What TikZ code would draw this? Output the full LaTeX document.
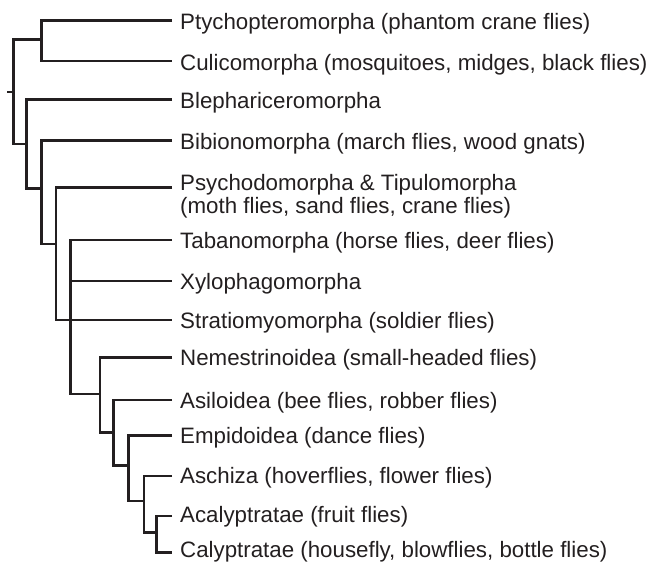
\documentclass[tikz,border=0pt]{standalone}
\usepackage{fontspec}
\setmainfont{Liberation Sans}
\definecolor{ink}{RGB}{35,31,32}
\begin{document}
\begin{tikzpicture}[x=1pt,y=-1pt,
  branch/.style={draw=ink,line width=2.5pt,line join=miter,line cap=butt},
  taxon/.style={anchor=base west,inner xsep=8pt,inner ysep=0pt,text=ink,
    font=\fontsize{22.3}{22.5}\selectfont,align=left}]
\useasboundingbox (0,0) rectangle (654,562);
% internal nodes
\coordinate (R0) at (7,92);
\coordinate (R) at (13.7,92);
\coordinate (A) at (41.7,39.5);
\coordinate (B) at (26.7,144);
\coordinate (C) at (41.7,188.3);
\coordinate (D) at (56,244);
\coordinate (E) at (70.7,320);
\coordinate (F) at (100,394);
\coordinate (G) at (113.3,432.7);
\coordinate (H) at (128.7,465.7);
\coordinate (I) at (144,501);
\coordinate (J) at (156.7,532.7);
% tips
\coordinate (t1) at (172,20.5);
\coordinate (t2) at (172,61);
\coordinate (t3) at (172,99.3);
\coordinate (t4) at (172,140.7);
\coordinate (t5) at (172,187.3);
\coordinate (t6) at (172,240);
\coordinate (t7) at (172,281);
\coordinate (t8) at (172,320);
\coordinate (t9) at (172,357.3);
\coordinate (t10) at (172,400);
\coordinate (t11) at (172,435.7);
\coordinate (t12) at (172,476);
\coordinate (t13) at (172,516);
\coordinate (t14) at (172,552.7);
% labels
\node[taxon] (n1) at ([yshift=-9.5pt]t1) {Ptychopteromorpha (phantom crane flies)};
\node[taxon] (n2) at ([yshift=-9.5pt]t2) {Culicomorpha (mosquitoes, midges, black flies)};
\node[taxon] (n3) at ([yshift=-9pt]t3) {Blephariceromorpha};
\node[taxon] (n4) at ([yshift=-9pt]t4) {Bibionomorpha (march flies, wood gnats)};
\node[taxon] (n5) at ([yshift=-25.7pt]t5) {Psychodomorpha \& Tipulomorpha\\(moth flies, sand flies, crane flies)};
\node[taxon] (n6) at ([yshift=-8pt]t6) {Tabanomorpha (horse flies, deer flies)};
\node[taxon] (n7) at ([yshift=-8.5pt]t7) {Xylophagomorpha};
\node[taxon] (n8) at ([yshift=-8.5pt]t8) {Stratiomyomorpha (soldier flies)};
\node[taxon] (n9) at ([yshift=-8.5pt]t9) {Nemestrinoidea (small-headed flies)};
\node[taxon] (n10) at ([yshift=-8.5pt]t10) {Asiloidea (bee flies, robber flies)};
\node[taxon] (n11) at ([yshift=-8pt]t11) {Empidoidea (dance flies)};
\node[taxon] (n12) at ([yshift=-7.5pt]t12) {Aschiza (hoverflies, flower flies)};
\node[taxon] (n13) at ([yshift=-6.5pt]t13) {Acalyptratae (fruit flies)};
\node[taxon] (n14) at ([yshift=-4.5pt]t14) {Calyptratae (housefly, blowflies, bottle flies)};
% branches
\path[branch] (R0) -- (R);
\path[branch] (A) -| (R) |- (B);
\path[branch] (t1) -| (A) |- (t2);
\path[branch] (t3) -| (B) |- (C);
\path[branch] (t4) -| (C) |- (D);
\path[branch] (t5) -| (D) |- (t8);
\path[branch] (t6) -| (E) |- (F);
\path[branch] (E |- t7) -- (t7);
\path[branch] (t9) -| (F) |- (G);
\path[branch] (t10) -| (G) |- (H);
\path[branch] (t11) -| (H) |- (I);
\path[branch] (t12) -| (I) |- (J);
\path[branch] (t13) -| (J) |- (t14);
\end{tikzpicture}
\end{document}
